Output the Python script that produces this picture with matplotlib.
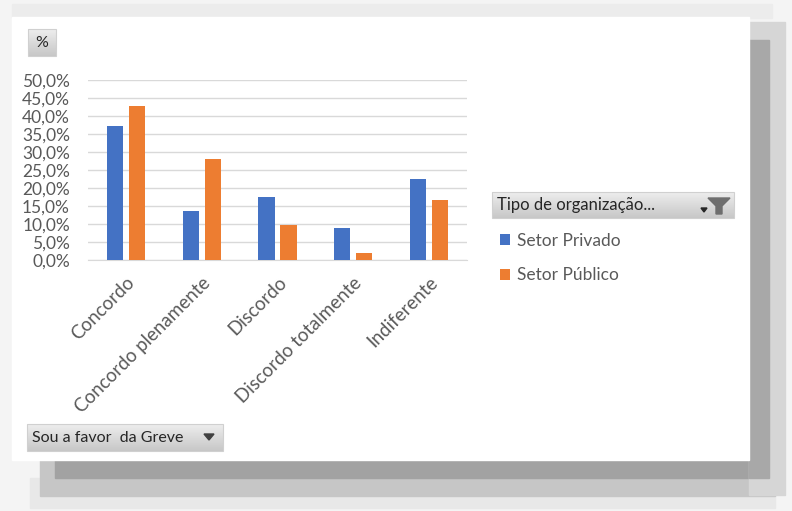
import numpy as np
import matplotlib.pyplot as plt
from matplotlib.patches import Rectangle, Polygon
from matplotlib.ticker import FuncFormatter

plt.rcParams['font.family'] = ['Lato', 'DejaVu Sans']

# data
categories = ['Concordo', 'Concordo plenamente', 'Discordo', 'Discordo totalmente', 'Indiferente']
privado = [37.3, 13.5, 17.4, 8.8, 22.6]
publico = [42.9, 28.1, 9.8, 1.9, 16.7]
series_names = ['Setor Privado', 'Setor Público']
yticks = [0, 5, 10, 15, 20, 25, 30, 35, 40, 45, 50]

W, H = 792, 511
fig = plt.figure(figsize=(W / 100, H / 100), dpi=100)
fig.patch.set_facecolor('white')

#   background layer in pixel coordinates (shadow + white panel)
bg = fig.add_axes([0, 0, 1, 1], zorder=0)
bg.set_xlim(0, W)
bg.set_ylim(H, 0)
bg.axis('off')
bg.add_patch(Rectangle((0, 0), W, H, color='#f4f4f4'))
bg.add_patch(Rectangle((12, 4), 760, 14, color='#ececec'))
bg.add_patch(Rectangle((30, 478), 745, 30, color='#e8e8e8'))
bg.add_patch(Rectangle((40, 460), 735, 36, color='#c6c6c6'))
bg.add_patch(Rectangle((55, 460), 700, 18, color='#a2a2a2'))
bg.add_patch(Rectangle((749, 22), 36, 473, color='#d6d6d6'))
bg.add_patch(Rectangle((749, 40), 20, 438, color='#a8a8a8'))
bg.add_patch(Rectangle((12, 17), 737, 443, color='white'))


def button(x, y, w, h):
    grad = np.linspace(0.93, 0.78, 50).reshape(-1, 1)
    bg.imshow(grad, cmap='gray', vmin=0, vmax=1, extent=(x, x + w, y + h, y),
              aspect='auto', zorder=2)
    bg.add_patch(Rectangle((x, y), w, h, fill=False, edgecolor='#d0d0d0', lw=0.8, zorder=3))


#   "%" field button
button(28, 29, 28, 27)
bg.text(42, 43, '%', ha='center', va='center', fontsize=11.5, color='#262626', zorder=4)

#   legend header button
button(492, 192, 242, 26)
bg.text(497, 205, 'Tipo de organização...', ha='left', va='center', fontsize=12,
        color='#262626', zorder=4)
bg.add_patch(Polygon([[708, 198], [730, 198], [722, 206], [722, 214], [716, 214], [716, 206]],
                     closed=True, color='#6e6e6e', zorder=4))
bg.add_patch(Polygon([[701, 208], [707, 208], [704, 212]], closed=True, color='#262626', zorder=4))

#   axis field button
button(27, 424, 196, 27)
bg.text(32, 438, 'Sou a favor  da Greve', ha='left', va='center', fontsize=11.5,
        color='#262626', zorder=4)
bg.add_patch(Polygon([[204, 434], [214, 434], [209, 440]], closed=True, color='#404040', zorder=4))

#   main chart area
ax = fig.add_axes([88 / W, 1 - 260 / H, 379 / W, 180 / H], zorder=1)
ax.patch.set_alpha(0)
x = np.arange(len(categories))
bw = 0.215
b1 = ax.bar(x - 0.145, privado, bw, color='#4472C4', label=series_names[0], zorder=3)
b2 = ax.bar(x + 0.145, publico, bw, color='#ED7D31', label=series_names[1], zorder=3)

ax.set_xlim(-0.5, len(categories) - 0.5)
ax.set_ylim(0, 50)
ax.set_yticks(yticks)
ax.yaxis.set_major_formatter(FuncFormatter(lambda v, p: ('%.1f%%' % v).replace('.', ',')))
ax.grid(axis='y', color='#d9d9d9', lw=1, zorder=0)
for s in ['top', 'right', 'left']:
    ax.spines[s].set_visible(False)
ax.spines['bottom'].set_color('#d9d9d9')
ax.tick_params(axis='both', length=0, colors='#595959', labelsize=12.5)
ax.tick_params(axis='y', pad=13)
ax.set_xticks(x)
ax.set_xticklabels(categories, rotation=45, ha='right', rotation_mode='anchor', fontsize=13.5)
ax.tick_params(axis='x', pad=10)

fig.legend(handles=[b1, b2], loc='upper left', bbox_to_anchor=(493 / W, 1 - 226 / H),
           frameon=False, fontsize=12.5, labelcolor='#595959', handlelength=0.6,
           handleheight=0.6, handletextpad=0.4, labelspacing=1.05, borderaxespad=0)

fig.savefig('out.png', dpi=100)
